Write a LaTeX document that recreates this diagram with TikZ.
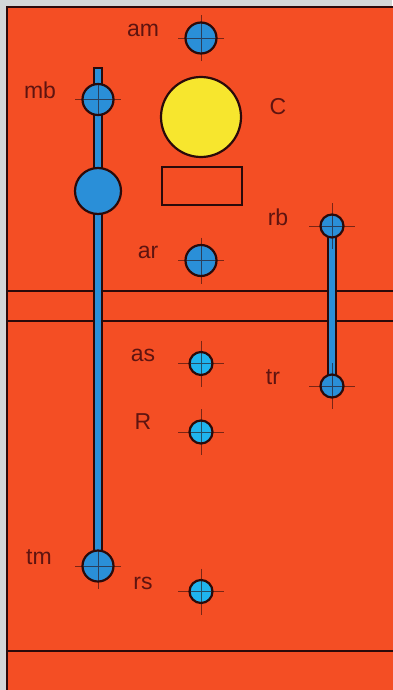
\documentclass[tikz,border=0pt]{standalone}
\usepackage{fontspec}
\setmainfont{Liberation Sans}
\usetikzlibrary{backgrounds}
\definecolor{panelred}{HTML}{F44E24}
\definecolor{greybg}{HTML}{D3D7D7}
\definecolor{tubeblue}{HTML}{2A8FD8}
\definecolor{lightblue}{HTML}{1FB4EE}
\definecolor{sunyellow}{HTML}{F7E62E}
\definecolor{lettering}{HTML}{5E1410}
\definecolor{edge}{HTML}{2A0A0A}
\tikzset{
  lab/.style={text=lettering,font=\fontsize{23}{25}\selectfont,inner sep=0pt},
  big/.style={circle,draw=edge,line width=2.2pt,fill=tubeblue,inner sep=0pt,minimum size=31pt},
  small/.style={circle,draw=edge,line width=2.2pt,fill=lightblue,inner sep=0pt,minimum size=23pt},
  sbig/.style={big,minimum size=23pt},
  tube/.style={draw=edge,line width=1.8pt,fill=tubeblue},
  hair/.style={draw=edge,line width=.7pt,opacity=.6},
  rule/.style={draw=edge,line width=2pt},
}
\begin{document}
\begin{tikzpicture}[x=1pt,y=-1pt]
\useasboundingbox (0,0) rectangle (392,690);
\begin{scope}[on background layer]
\fill[greybg] (0,0) rectangle (392,690);
\draw[rule,fill=panelred] (6.5,7) rectangle (400,700);
\draw[rule] (6.5,290.5)--(400,290.5);
\draw[rule] (6.5,321)--(400,321);
\draw[rule] (6.5,650.5)--(400,650.5);
\end{scope}
% lamp and box
\node[circle,draw=edge,line width=2.2pt,fill=sunyellow,inner sep=0pt,minimum size=80pt] (lamp) at (201,117) {};
\node[draw=edge,line width=2pt,inner sep=0pt,minimum width=80pt,minimum height=38pt] (box) at (201.5,185.5) {};
% holes
\node[big] (am) at (201,38) {};
\node[big] (mb) at (98,99.5) {};
\node[big] (ar) at (201,260.5) {};
\node[big] (tm) at (98,566) {};
\node[sbig] (rb) at (332,226) {};
\node[sbig] (tr) at (332,386) {};
\node[small] (as) at (201,363.5) {};
\node[small] (R) at (201,432) {};
\node[small] (rs) at (201,591.5) {};
\node[circle,draw=edge,line width=2.2pt,fill=tubeblue,inner sep=0pt,minimum size=46pt] (knob) at (98,191) {};
\coordinate (mbtop) at (98,68);
% tubes go under the holes
\begin{scope}[on background layer]
\draw[tube] ([xshift=-3.8pt]mbtop) rectangle ([xshift=3.8pt]tm.center);
\draw[tube] ([xshift=-3.8pt]rb.center) rectangle ([xshift=3.8pt]tr.center);
\end{scope}
\draw[hair] (am)+(-23,0)--+(23,0) (am)+(0,-23)--+(0,23);
\draw[hair] (mb)+(-23,0)--+(23,0) (mb)+(0,-16)--+(0,16);
\draw[hair] (ar)+(-23,0)--+(23,0) (ar)+(0,-23)--+(0,23);
\draw[hair] (tm)+(-23,0)--+(23,0) (tm)+(0,-16)--+(0,23);
\draw[hair] (rb)+(-23,0)--+(23,0) (rb)+(0,-23)--+(0,23);
\draw[hair] (tr)+(-23,0)--+(23,0) (tr)+(0,-23)--+(0,23);
\draw[hair] (as)+(-23,0)--+(23,0) (as)+(0,-23)--+(0,23);
\draw[hair] (R)+(-23,0)--+(23,0) (R)+(0,-23)--+(0,23);
\draw[hair] (rs)+(-23,0)--+(23,0) (rs)+(0,-23)--+(0,23);
% labels
\node[lab] (amlab) at (143,30) {am};
\node[lab] (mblab) at (40,90) {mb};
\node[lab] (Clab) at (278,106.5) {C};
\node[lab] (rblab) at (278,217) {rb};
\node[lab] (arlab) at (148,252) {ar};
\node[lab] (aslab) at (143,355.5) {as};
\node[lab] (Rlab) at (143,422) {R};
\node[lab] (trlab) at (273,377) {tr};
\node[lab] (tmlab) at (39,557) {tm};
\node[lab] (rslab) at (143,583.5) {rs};
\end{tikzpicture}
\end{document}
